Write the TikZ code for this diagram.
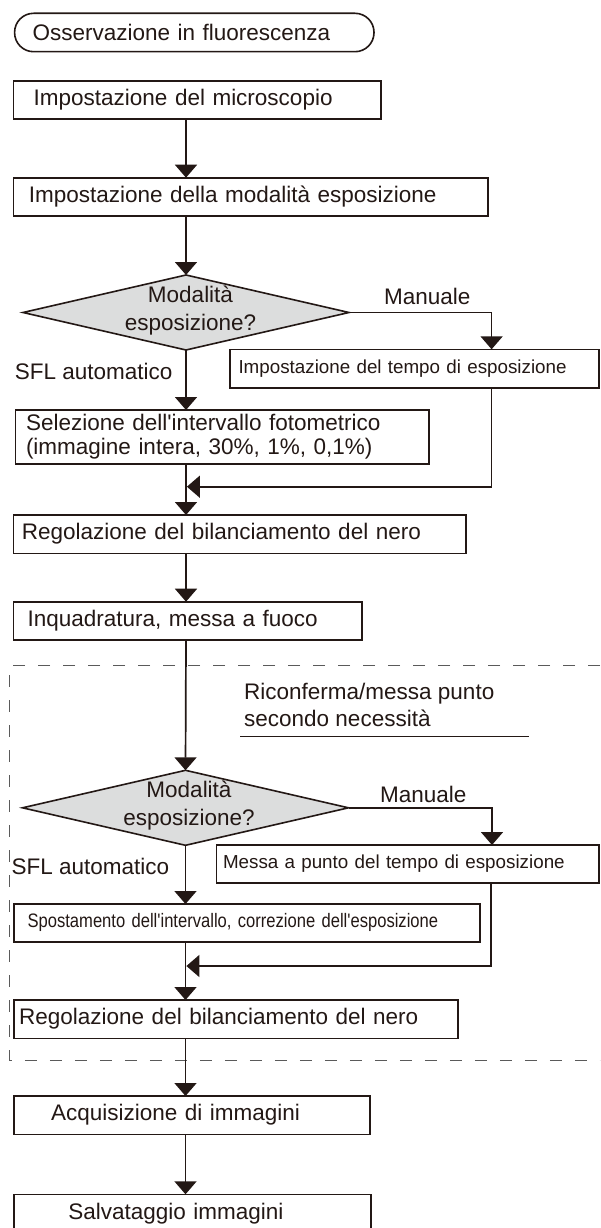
\documentclass[tikz,border=0pt]{standalone}
\usepackage{fontspec}
\usepackage{graphicx}
\setmainfont{Liberation Sans}[Ligatures=TeXOff]
\usetikzlibrary{arrows.meta,shapes.geometric}
\definecolor{ink}{HTML}{231815}
\definecolor{dgray}{HTML}{DCDDDD}
\definecolor{dashgray}{HTML}{5A5A5A}
\begin{document}
\begin{tikzpicture}[x=1pt,y=-1pt,
  box/.style={draw=ink, line width=1.6pt, fill=white, anchor=north west,
    inner ysep=0pt, align=left, outer sep=0pt, text=ink,
    font=\fontsize{22.5}{24}\selectfont},
  smallbox/.style={box, font=\fontsize{18.8}{22}\selectfont},
  term/.style={box, rounded corners=19pt},
  decision/.style={diamond, draw=ink, line width=1.6pt, fill=dgray,
    minimum width=326pt, minimum height=75pt, inner sep=0pt, outer sep=0pt},
  lbl/.style={inner sep=0pt, text=ink, font=\fontsize{22.5}{28}\selectfont},
  arr/.style={draw=ink, line width=1.7pt, -{Triangle[width=22pt,length=13pt]}},
  frame/.style={draw=dashgray, line width=1pt, dash pattern=on 12pt off 13pt},
]
\clip (0,0) rectangle (600,1228);
\fill[white] (0,0) rectangle (600,1228);

% column coordinates
\coordinate (cx) at (186,0);
\coordinate (rx1) at (491.6,0);
\coordinate (rx2) at (492,0);
\coordinate (rx3) at (491,0);

% start terminal
\node[term, inner xsep=18pt, text width=323.4pt, minimum height=38.4pt] (t0) at (14.6,13.3) {Osservazione in fluorescenza};

% boxes
\node[box, inner xsep=20.3pt, text width=326.7pt, minimum height=38.3pt] (b1) at (13.4,81) {Impostazione del microscopio};
\node[box, inner xsep=15.4pt, text width=443.5pt, minimum height=38.3pt] (b2) at (13.4,177.7) {Impostazione della modalità esposizione};

% decision 1
\node[decision] (d1) at (186,312.5) {};
\node[lbl, align=center] (d1t) at (190.5,311) {Modalità\\esposizione?};
\node[lbl, anchor=west] (m1) at (384,296) {Manuale};
\node[smallbox, inner xsep=8.5pt, text width=352pt, minimum height=38.4pt] (bt1) at (230,349.3) {Impostazione del tempo di esposizione};
\node[lbl, anchor=west] (s1) at (14.6,371.7) {SFL automatico};

\node[box, inner xsep=10.7pt, text width=392pt, minimum height=54pt] (b3) at (15.3,410) {Selezione dell'intervallo fotometrico\\(immagine intera, 30\%, 1\%, 0,1\%)};
\node[box, inner xsep=8.5pt, text width=435.6pt, minimum height=38.3pt] (b4) at (13.4,515) {Regolazione del bilanciamento del nero};
\node[box, inner xsep=14.2pt, text width=320.2pt, minimum height=38.3pt] (b5) at (13.4,601.7) {Inquadratura, messa a fuoco};

% dashed frame
\coordinate (f1) at (600,665.7);
\coordinate (f2) at (9.6,665.7);
\coordinate (f3) at (9.6,1060);
\coordinate (f4) at (600,1060);
\draw[frame] (f1) -- (f2) -- (f3) -- (f4);

\node[lbl, anchor=west, align=left, font=\fontsize{22.5}{26.6}\selectfont] (rc) at (244,705) {Riconferma/messa punto\\secondo necessità};
\coordinate (u1) at (240.4,736);
\coordinate (u2) at (529,736);
\draw[draw=ink, line width=0.8pt] (u1) -- (u2);

% decision 2
\node[decision] (d2) at (185.5,807.8) {};
\node[lbl, align=center] (d2t) at (189,806) {Modalità\\esposizione?};
\node[lbl, anchor=west] (m2) at (380,794) {Manuale};
\node[smallbox, inner xsep=6.4pt, text width=369.6pt, minimum height=37.7pt] (bt2) at (216.6,845) {Messa a punto del tempo di esposizione};
\node[lbl, anchor=west] (s2) at (11.5,866) {SFL automatico};

\node[box, inner xsep=13.4pt, text width=439pt, minimum height=37.7pt] (b6) at (14.2,904) {\scalebox{0.85}[1]{\fontsize{19.5}{22}\selectfont Spostamento dell'intervallo, correzione dell'esposizione}};
\node[box, inner xsep=5pt, text width=433.8pt, minimum height=38.3pt] (b7) at (14.2,1000) {Regolazione del bilanciamento del nero};
\node[box, inner xsep=36.8pt, text width=282.2pt, minimum height=38.3pt] (b8) at (14.2,1096) {Acquisizione di immagini};
\node[box, inner xsep=54.1pt, text width=248.6pt, minimum height=38.3pt] (b9) at (14.2,1194.3) {Salvataggio immagini};

% connectors
\draw[arr] (b1.south -| cx) -- (b2.north -| cx);
\draw[arr] (b2.south -| cx) -- (d1.north);
\draw[arr] (d1.south) -- (b3.north -| cx);
\draw[arr] (d1.east) -| (bt1.north -| rx1);
\coordinate (j1) at (186.9,486.7);
\draw[arr] (bt1.south -| rx1) |- (j1);
\draw[arr] (b3.south -| cx) -- (b4.north -| cx);
\draw[arr] (b4.south -| cx) -- (b5.north -| cx);
\draw[arr] (b5.south -| cx) -- (d2.north);
\draw[arr] (d2.south) -- (b6.north -| d2.south);
\draw[arr] (d2.east) -| (bt2.north -| rx2);
\coordinate (j2) at (186.4,966);
\draw[arr] (bt2.south -| rx3) |- (j2);
\draw[arr] (b6.south -| d2.south) -- (b7.north -| d2.south);
\draw[arr] (b7.south -| d2.south) -- (b8.north -| d2.south);
\draw[arr] (b8.south -| d2.south) -- (b9.north -| d2.south);
\end{tikzpicture}
\end{document}
